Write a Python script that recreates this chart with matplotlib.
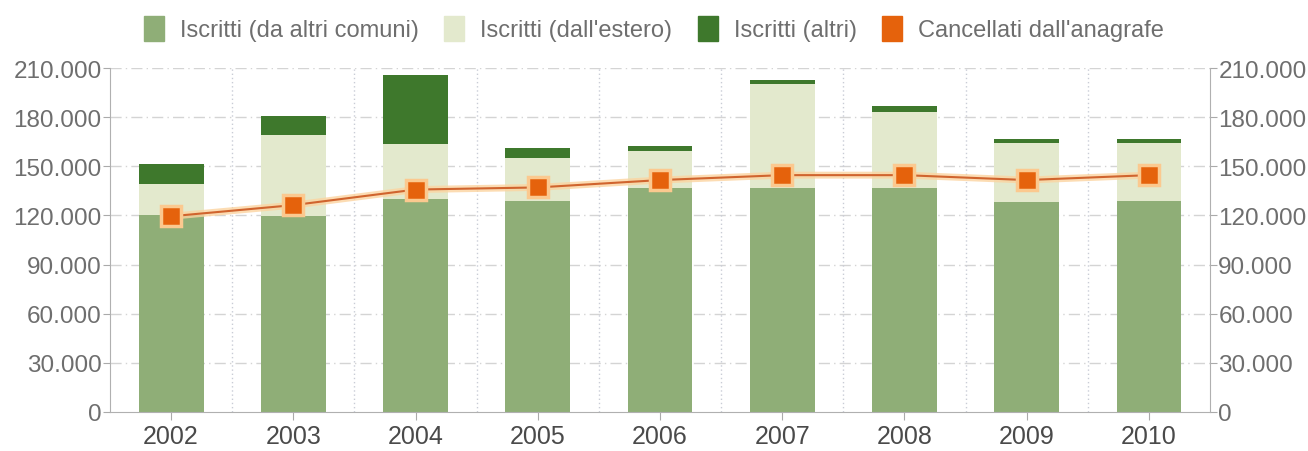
import matplotlib
matplotlib.use("Agg")
from matplotlib import pyplot as plt
from matplotlib.patches import Patch
from matplotlib.ticker import FuncFormatter
import numpy as np

plt.rcParams['font.family'] = ['Liberation Sans', 'DejaVu Sans']

# Dati
anni = ['2002', '2003', '2004', '2005', '2006', '2007', '2008', '2009', '2010']
da_altri_comuni = [120500, 119500, 130000, 129000, 136500, 137000, 136500, 128000, 129000]
dall_estero = [18500, 49500, 33500, 26000, 22800, 63000, 46500, 36000, 35000]
altri = [12600, 12000, 42000, 6000, 3200, 2500, 4000, 2500, 2800]
cancellati = [119500, 126300, 135800, 137100, 141600, 144600, 144600, 141600, 144600]

c_base = '#8fae77'
c_light = '#e3e9cd'
c_dark = '#3e782c'
c_orange = '#e5620c'
grey_txt = '#6e6e6e'

fig = plt.figure(figsize=(13.08, 4.52), dpi=100)
ax = fig.add_axes([0.0841, 0.0863, 0.8410, 0.7610])

x = np.arange(len(anni))
w = 0.53
b1 = np.array(da_altri_comuni)
b2 = b1 + np.array(dall_estero)

# griglia orizzontale dietro le barre
for v in range(30000, 210001, 30000):
    ax.axhline(v, color='#d4d4d4', lw=1, ls=(0, (8, 3, 1, 3)), zorder=0)
# griglia verticale tra le categorie
for b in np.arange(0.5, len(anni) - 0.5, 1):
    ax.axvline(b, color='#c9ccd6', lw=1, ls=(0, (1, 2)), zorder=0)

ax.bar(x, da_altri_comuni, w, color=c_base, zorder=2)
ax.bar(x, dall_estero, w, bottom=b1, color=c_light, zorder=2)
ax.bar(x, altri, w, bottom=b2, color=c_dark, zorder=2)

# linea cancellati con alone
ax.plot(x, cancellati, color='#fcd4a0', lw=5, alpha=0.8, zorder=3, solid_capstyle='round')
ax.plot(x, cancellati, color='#d0642e', lw=1.5, zorder=4)
ax.plot(x, cancellati, ls='none', marker='s', markersize=14, color=c_orange,
        markeredgecolor='#fbc98f', markeredgewidth=2.5, zorder=5)

ax.set_xlim(-0.5, len(anni) - 0.5)
ax.set_ylim(0, 210000)
ax.set_yticks(range(0, 210001, 30000))
ax.yaxis.set_major_formatter(FuncFormatter(lambda v, p: f"{int(v):,}".replace(',', '.')))
ax.set_xticks(x)
ax.set_xticklabels(anni)

ax.tick_params(axis='y', which='both', right=True, labelright=True, length=5,
               color='#aaaaaa', labelcolor=grey_txt, labelsize=17.5, pad=1)
ax.tick_params(axis='x', length=6, color='#aaaaaa', labelcolor='#4a4a4a',
               labelsize=18, pad=3)

for s in ['left', 'right', 'bottom']:
    ax.spines[s].set_color('#b0b0b0')
ax.spines['top'].set_visible(False)

handles = [Patch(color=c_base, label='Iscritti (da altri comuni)'),
           Patch(color=c_light, label="Iscritti (dall'estero)"),
           Patch(color=c_dark, label='Iscritti (altri)'),
           Patch(color=c_orange, label="Cancellati dall'anagrafe")]
leg = fig.legend(handles=handles, loc='upper center', bbox_to_anchor=(0.5, 1.01),
                 ncol=4, frameon=False, fontsize=17, handlelength=0.85,
                 handleheight=1.27, columnspacing=1.06, handletextpad=0.68)
for t in leg.get_texts():
    t.set_color(grey_txt)

fig.savefig('out.png', dpi=100)
